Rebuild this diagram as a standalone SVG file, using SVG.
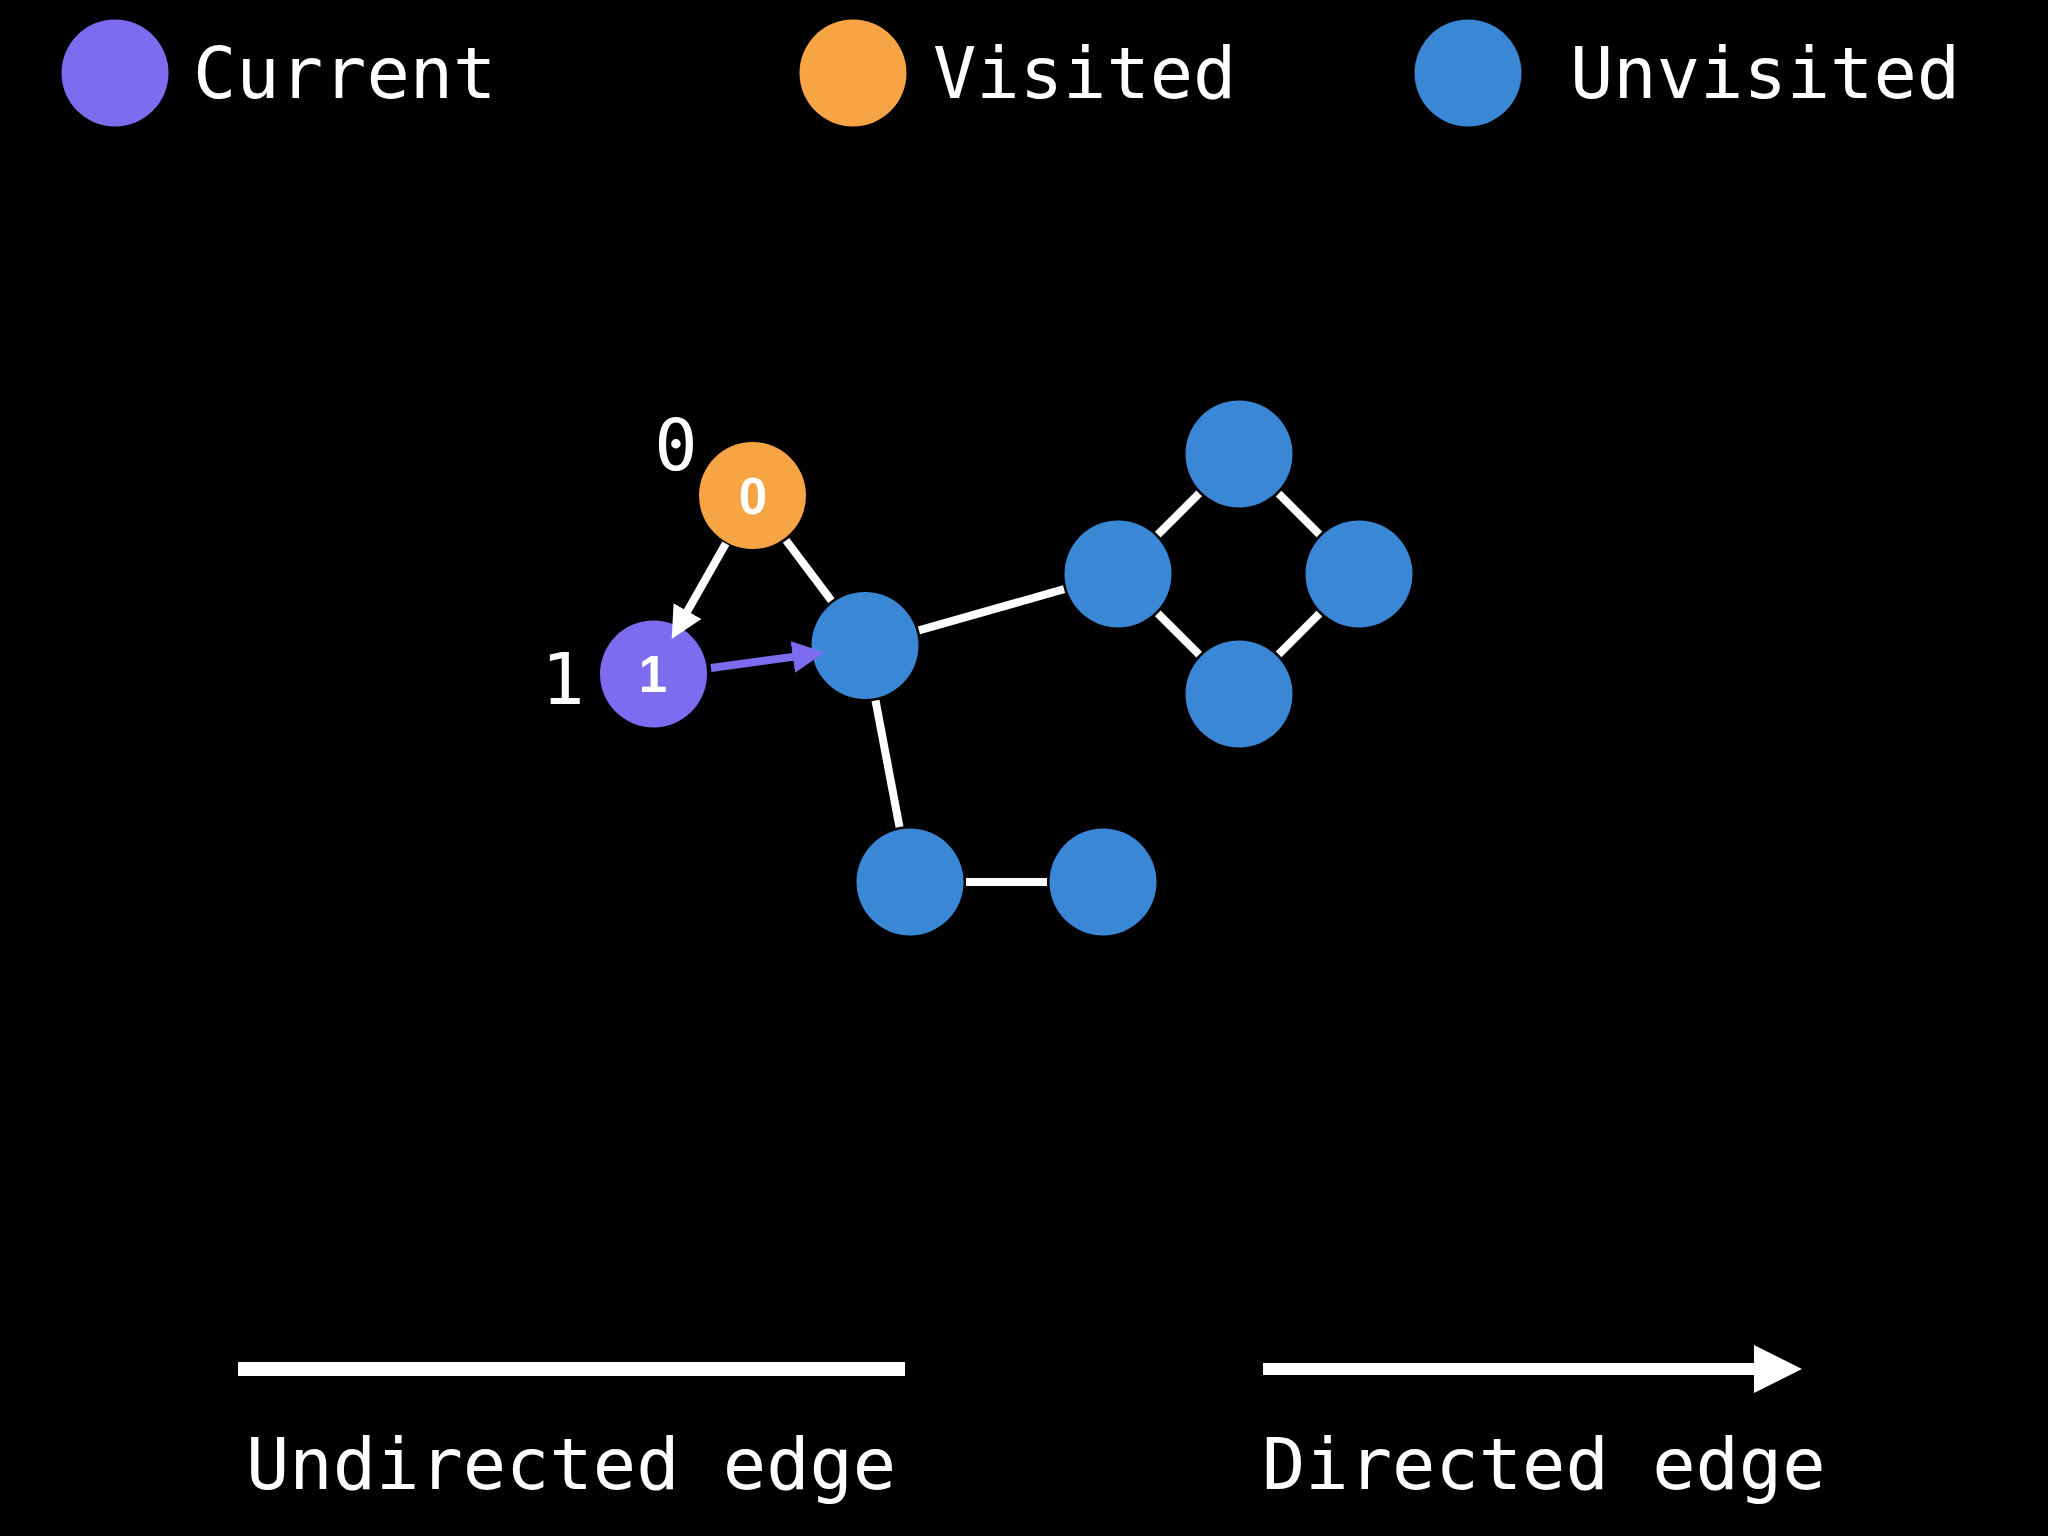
<svg xmlns="http://www.w3.org/2000/svg" width="2048" height="1536" viewBox="0 0 2048 1536">
  <defs>
    <style>
      .mono { font-family: "DejaVu Sans Mono", "Liberation Mono", monospace; font-size: 72px; fill: #ffffff; }
      .num { font-family: "Liberation Sans", Arial, sans-serif; font-weight: bold; font-size: 51px; fill: #ffffff; text-anchor: middle; }
      .edge { stroke: #ffffff; stroke-width: 8; fill: none; stroke-linecap: butt; }
      .cur { fill: #7D6CF0; }
      .vis { fill: #F6A444; }
      .unv { fill: #3A87D5; }
    </style>
    <marker id="ahW" viewBox="0 0 4 4" markerWidth="4" markerHeight="4" refX="0.25" refY="2" orient="auto" markerUnits="strokeWidth">
      <path d="M0,0 L4,2 L0,4 z" fill="#ffffff"/>
    </marker>
    <marker id="ahP" viewBox="0 0 4 4" markerWidth="4" markerHeight="4" refX="0.25" refY="2" orient="auto" markerUnits="strokeWidth">
      <path d="M0,0 L4,2 L0,4 z" fill="#7D6CF0"/>
    </marker>
  </defs>
  <rect x="0" y="0" width="2048" height="1536" fill="#000000"/>

  <g id="legend">
    <circle class="cur" cx="115" cy="73" r="53.5"/>
    <text class="mono" x="193" y="98">Current</text>
    <circle class="vis" cx="853" cy="73" r="53.5"/>
    <text class="mono" x="933" y="98">Visited</text>
    <circle class="unv" cx="1468" cy="73" r="53.5"/>
    <text class="mono" x="1570" y="98">Unvisited</text>

    <line x1="238" y1="1369" x2="905" y2="1369" stroke="#ffffff" stroke-width="14"/>
    <text class="mono" x="246" y="1489">Undirected edge</text>
    <line x1="1263" y1="1369" x2="1757" y2="1369" stroke="#ffffff" stroke-width="12" marker-end="url(#ahW)"/>
    <text class="mono" x="1262" y="1489">Directed edge</text>
  </g>

  <g id="node0">
    <circle class="vis" cx="752.5" cy="495.5" r="53.5"/>
    <text class="num" x="753" y="514">0</text>
    <text class="mono" x="676" y="470" text-anchor="middle">0</text>
  </g>
  <g id="node1">
    <circle class="cur" cx="653.5" cy="674" r="53.5"/>
    <text class="num" x="653" y="692">1</text>
    <text class="mono" x="563" y="704" text-anchor="middle">1</text>
  </g>
  <g id="nodeHub">
    <circle class="unv" cx="865" cy="645.5" r="53.5"/>
  </g>
  <g id="nodeSqLeft">
    <circle class="unv" cx="1118" cy="574" r="53.5"/>
  </g>
  <g id="nodeSqTop">
    <circle class="unv" cx="1239" cy="454" r="53.5"/>
  </g>
  <g id="nodeSqRight">
    <circle class="unv" cx="1359" cy="574" r="53.5"/>
  </g>
  <g id="nodeSqBottom">
    <circle class="unv" cx="1239" cy="694" r="53.5"/>
  </g>
  <g id="nodeBottomLeft">
    <circle class="unv" cx="910" cy="882" r="53.5"/>
  </g>
  <g id="nodeBottomRight">
    <circle class="unv" cx="1103" cy="882" r="53.5"/>
  </g>

  <g id="connectors">
    <line class="edge" x1="725.8" y1="543.6" x2="686.5" y2="612.8" marker-end="url(#ahW)"/>
    <line class="edge" x1="711" y1="668" x2="794.8" y2="656.6" style="stroke:#7D6CF0" marker-end="url(#ahP)"/>
    <line class="edge" x1="786.1" y1="540.3" x2="831.4" y2="600.7"/>
    <line class="edge" x1="918.9" y1="630.3" x2="1064.1" y2="589.2"/>
    <line class="edge" x1="875.5" y1="700.5" x2="899.5" y2="827"/>
    <line class="edge" x1="966" y1="882" x2="1047" y2="882"/>
    <line class="edge" x1="1157.8" y1="534.6" x2="1199.2" y2="493.4"/>
    <line class="edge" x1="1278.6" y1="493.6" x2="1319.4" y2="534.4"/>
    <line class="edge" x1="1319.4" y1="613.6" x2="1278.6" y2="654.4"/>
    <line class="edge" x1="1199.2" y1="654.6" x2="1157.8" y2="613.4"/>
  </g>
</svg>
